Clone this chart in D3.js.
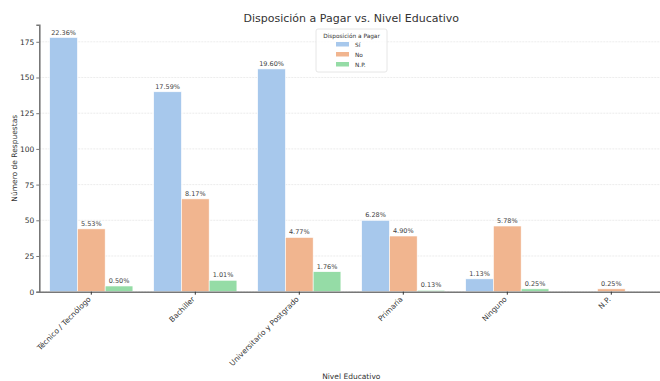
<!DOCTYPE html>
<html>
<head>
<meta charset="utf-8">
<script src="https://cdn.jsdelivr.net/npm/d3@7"></script>
<style>
  body { margin: 0; background: #fff; }
  svg { font-family: 'DejaVu Sans', sans-serif; display: block; }
</style>
</head>
<body>
<script>
const categories = ['Técnico / Tecnólogo', 'Bachiller', 'Universitario y Postgrado', 'Primaria', 'Ninguno', 'N.P.'];
const series = ['Sí', 'No', 'N.P.'];
const siValues = [178, 140, 156, 50, 9, 0];
const noValues = [44, 65, 38, 39, 46, 2];
const npValues = [4, 8, 14, 1, 2, 0];
const siLabels = ['22.36%', '17.59%', '19.60%', '6.28%', '1.13%', null];
const noLabels = ['5.53%', '8.17%', '4.77%', '4.90%', '5.78%', '0.25%'];
const npLabels = ['0.50%', '1.01%', '1.76%', '0.13%', '0.25%', null];
const yTicks = [0, 25, 50, 75, 100, 125, 150, 175];
const colors = ['#a7c8ec', '#f1b58f', '#95dca6'];

const width = 660;
const height = 381;
const plotLeft = 39.3, plotRight = 663.3, plotTop = 24.8, plotBottom = 291.7;

const values = [siValues, noValues, npValues];
const labels = [siLabels, noLabels, npLabels];

const svg = d3.select('body')
    .append('svg')
    .attr('width', width)
    .attr('height', height);

const x0 = d3.scaleBand()
    .domain(categories)
    .range([plotLeft, plotRight])
    .padding(0);

const x1 = d3.scaleBand()
    .domain(series)
    .range([0, x0.bandwidth()])
    .paddingInner(0)
    .paddingOuter(0.375);

const yMax = 178 * 1.05;
const y = d3.scaleLinear()
    .domain([0, yMax])
    .range([plotBottom, plotTop]);

// grid
svg.append('g')
    .selectAll('line')
    .data(yTicks)
    .enter()
    .append('line')
    .attr('x1', plotLeft)
    .attr('x2', plotRight)
    .attr('y1', (d) => y(d))
    .attr('y2', (d) => y(d))
    .attr('stroke', '#e4e4e4')
    .attr('stroke-width', 0.7)
    .attr('stroke-dasharray', '2,1');

// bars
series.forEach((s, si) => {
    const g = svg.append('g');
    g.selectAll('rect')
        .data(categories)
        .enter()
        .append('rect')
        .attr('x', (d) => x0(d) + x1(s))
        .attr('y', (d, i) => y(values[si][i]))
        .attr('width', x1.bandwidth())
        .attr('height', (d, i) => y(0) - y(values[si][i]))
        .attr('fill', colors[si])
        .attr('stroke', '#fff')
        .attr('stroke-width', 0.6);

    g.selectAll('text')
        .data(categories.filter((d, i) => labels[si][i] !== null))
        .enter()
        .append('text')
        .attr('x', (d) => x0(d) + x1(s) + x1.bandwidth() / 2)
        .attr('y', (d) => y(values[si][categories.indexOf(d)]) - 3)
        .attr('text-anchor', 'middle')
        .attr('font-size', 6.5)
        .attr('fill', '#444')
        .text((d) => labels[si][categories.indexOf(d)]);
});

// axes
const yAxis = d3.axisLeft(y)
    .tickValues(yTicks)
    .tickSize(3)
    .tickPadding(2);

const yG = svg.append('g')
    .attr('transform', 'translate(' + plotLeft + ',0)')
    .call(yAxis);
yG.select('.domain').attr('stroke', '#777').attr('stroke-width', 1.6);
yG.selectAll('.tick line').attr('stroke', '#777');
yG.selectAll('.tick text')
    .attr('font-size', 7.5)
    .attr('fill', '#333')
    .attr('font-family', 'DejaVu Sans');

const xAxis = d3.axisBottom(x0)
    .tickSize(3)
    .tickSizeOuter(0);

const xG = svg.append('g')
    .attr('transform', 'translate(0,' + plotBottom + ')')
    .call(xAxis);
xG.select('.domain').attr('stroke', '#777').attr('stroke-width', 1.6);
xG.selectAll('.tick line').attr('stroke', '#333');
xG.selectAll('.tick text')
    .attr('font-size', 7.5)
    .attr('fill', '#333')
    .attr('font-family', 'DejaVu Sans')
    .attr('text-anchor', 'end')
    .attr('dy', 0)
    .attr('y', 0)
    .attr('x', 0)
    .attr('transform', 'translate(0,8) rotate(-45)');

// title and axis labels
svg.append('text')
    .attr('x', (plotLeft + plotRight) / 2)
    .attr('y', 22)
    .attr('text-anchor', 'middle')
    .attr('font-size', 11)
    .attr('fill', '#333')
    .text('Disposición a Pagar vs. Nivel Educativo');

svg.append('text')
    .attr('x', (plotLeft + plotRight) / 2)
    .attr('y', 379)
    .attr('text-anchor', 'middle')
    .attr('font-size', 7.5)
    .attr('fill', '#333')
    .text('Nivel Educativo');

svg.append('text')
    .attr('transform', 'translate(17,' + ((plotTop + plotBottom) / 2) + ') rotate(-90)')
    .attr('text-anchor', 'middle')
    .attr('font-size', 7.5)
    .attr('fill', '#333')
    .text('Número de Respuestas');

// legend
const legend = svg.append('g')
    .attr('transform', 'translate(316,29)');

legend.append('rect')
    .attr('width', 71)
    .attr('height', 43)
    .attr('rx', 2)
    .attr('fill', '#fff')
    .attr('fill-opacity', 0.8)
    .attr('stroke', '#e0e0e0')
    .attr('stroke-width', 0.8);

legend.append('text')
    .attr('x', 35.5)
    .attr('y', 8.5)
    .attr('text-anchor', 'middle')
    .attr('font-size', 5.8)
    .attr('fill', '#333')
    .text('Disposición a Pagar');

series.forEach((s, i) => {
    legend.append('rect')
        .attr('x', 20)
        .attr('y', 13 + i * 10)
        .attr('width', 13)
        .attr('height', 4.5)
        .attr('fill', colors[i]);
    legend.append('text')
        .attr('x', 39)
        .attr('y', 17.5 + i * 10)
        .attr('font-size', 5.8)
        .attr('fill', '#333')
        .text(s);
});
</script>
</body>
</html>
